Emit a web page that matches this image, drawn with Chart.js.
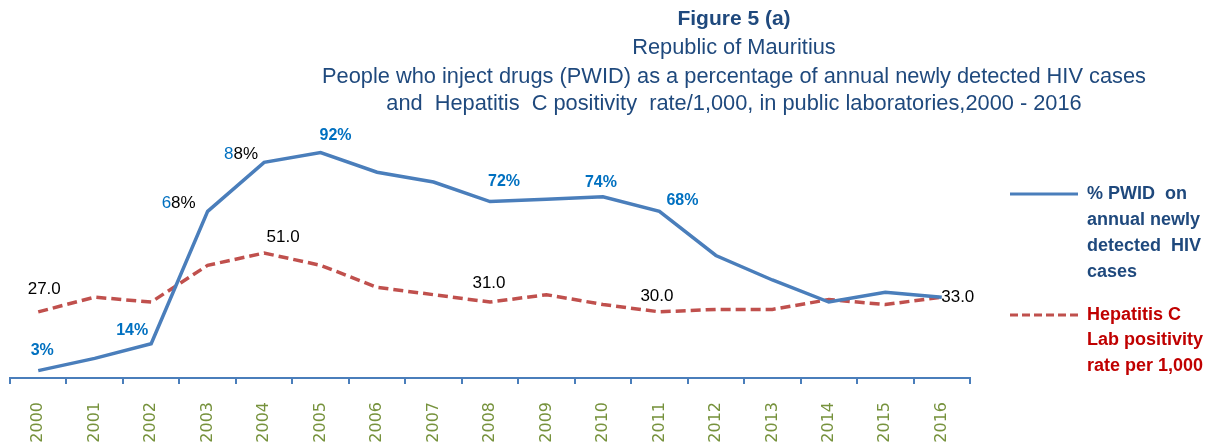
<!DOCTYPE html>
<html>
<head>
<meta charset="utf-8">
<script src="https://cdn.jsdelivr.net/npm/chart.js@4"></script>
<style>
  html, body { margin: 0; padding: 0; background: #ffffff; }
  #wrap { position: relative; width: 1225px; height: 448px; }
</style>
</head>
<body>
<div id="wrap"><canvas id="chart"></canvas></div>
<script>
// Years on the category axis
const years = ['2000', '2001', '2002', '2003', '2004', '2005', '2006', '2007', '2008',
               '2009', '2010', '2011', '2012', '2013', '2014', '2015', '2016'];

// % of annual newly detected HIV cases who are people who inject drugs
const pwidPct = [3, 8, 14, 68, 88, 92, 84, 80, 72, 73, 74, 68, 50, 40, 31, 35, 33];

// Hepatitis C lab positivity rate per 1,000 (public laboratories)
const hepCRate = [27.0, 33.0, 31.0, 46.0, 51.0, 46.0, 37.0, 34.0, 31.0, 34.0, 30.0, 27.0, 28.0, 28.0, 32.0, 30.0, 33.0];

const titleLines = [
  'Figure 5 (a)',
  'Republic of Mauritius',
  'People who inject drugs (PWID) as a percentage of annual newly detected HIV cases',
  'and  Hepatitis  C positivity  rate/1,000, in public laboratories,2000 - 2016'
];
const pwidLegend = ['% PWID  on', 'annual newly', 'detected  HIV', 'cases'];
const hepLegend = ['Hepatitis C', 'Lab positivity', 'rate per 1,000'];

const BLUE_LINE = '#4a7ebb';
const RED_LINE = '#c0504d';
const TITLE_BLUE = '#1f497d';
const LABEL_BLUE = '#0070c0';
const LEGEND_RED = '#c00000';
const AXIS_GREEN = '#76923c';
const FONT = '"Liberation Sans", Arial, sans-serif';

// Which points carry a value label, and where the label sits relative to the point
const pwidLabelSpots = [
  { i: 0, dx: 4, dy: -20 },
  { i: 2, dx: -19, dy: -13 },
  { i: 3, dx: -29, dy: -8, split: true },
  { i: 4, dx: -23, dy: -8, split: true },
  { i: 5, dx: 15, dy: -17 },
  { i: 8, dx: 14, dy: -20 },
  { i: 10, dx: -2, dy: -14 },
  { i: 11, dx: 23, dy: -11 }
];
const hepLabelSpots = [
  { i: 0, dx: 6, dy: -23 },
  { i: 4, dx: 19, dy: -16 },
  { i: 8, dx: -1, dy: -19 },
  { i: 10, dx: 54, dy: -8 },
  { i: 16, dx: 16, dy: 0 }
];

const decorations = {
  id: 'decorations',
  afterDraw(chart) {
    const ctx = chart.ctx;
    ctx.save();
    ctx.textBaseline = 'middle';

    // Title block
    ctx.fillStyle = TITLE_BLUE;
    ctx.textAlign = 'center';
    const tx = 734;
    ctx.font = 'bold 21px ' + FONT;
    ctx.fillText(titleLines[0], tx, 19);
    ctx.font = '21.8px ' + FONT;
    ctx.fillText(titleLines[1], tx, 48);
    ctx.fillText(titleLines[2], tx, 77);
    ctx.fillText(titleLines[3], tx, 104);

    // Value labels
    const pMeta = chart.getDatasetMeta(0).data;
    const hMeta = chart.getDatasetMeta(1).data;
    pwidLabelSpots.forEach(s => {
      const pt = pMeta[s.i];
      const txt = pwidPct[s.i] + '%';
      const cx = pt.x + s.dx, cy = pt.y + s.dy;
      if (s.split) {
        ctx.font = '17px ' + FONT;
        const head = txt.slice(0, 1), tail = txt.slice(1);
        const w = ctx.measureText(txt).width;
        const wh = ctx.measureText(head).width;
        ctx.textAlign = 'left';
        ctx.fillStyle = LABEL_BLUE;
        ctx.fillText(head, cx - w / 2, cy);
        ctx.fillStyle = '#000000';
        ctx.fillText(tail, cx - w / 2 + wh, cy);
      } else {
        ctx.font = 'bold 16px ' + FONT;
        ctx.textAlign = 'center';
        ctx.fillStyle = LABEL_BLUE;
        ctx.fillText(txt, cx, cy);
      }
    });
    ctx.font = '17px ' + FONT;
    ctx.textAlign = 'center';
    ctx.fillStyle = '#000000';
    hepLabelSpots.forEach(s => {
      const pt = hMeta[s.i];
      ctx.fillText(hepCRate[s.i].toFixed(1), pt.x + s.dx, pt.y + s.dy);
    });

    // Legend
    const lx0 = 1010, lx1 = 1078, textX = 1087;
    ctx.lineWidth = 3;
    ctx.strokeStyle = BLUE_LINE;
    ctx.setLineDash([]);
    ctx.beginPath(); ctx.moveTo(lx0, 194); ctx.lineTo(lx1, 194); ctx.stroke();
    ctx.strokeStyle = RED_LINE;
    ctx.setLineDash([8, 4]);
    ctx.beginPath(); ctx.moveTo(lx0, 315); ctx.lineTo(lx1, 315); ctx.stroke();
    ctx.setLineDash([]);

    ctx.font = 'bold 18px ' + FONT;
    ctx.textAlign = 'left';
    ctx.fillStyle = TITLE_BLUE;
    pwidLegend.forEach((t, k) => ctx.fillText(t, textX, 194 + k * 26));
    ctx.fillStyle = LEGEND_RED;
    hepLegend.forEach((t, k) => ctx.fillText(t, textX, 315 + k * 25.5));

    ctx.restore();
  }
};

new Chart(document.getElementById('chart'), {
  type: 'line',
  data: {
    labels: years,
    datasets: [
      {
        label: '% PWID on annual newly detected HIV cases',
        data: pwidPct,
        borderColor: BLUE_LINE,
        borderWidth: 3.5,
        pointRadius: 0,
        tension: 0,
        fill: false
      },
      {
        label: 'Hepatitis C Lab positivity rate per 1,000',
        data: hepCRate,
        borderColor: RED_LINE,
        borderWidth: 3.5,
        borderDash: [10, 5],
        pointRadius: 0,
        tension: 0,
        fill: false
      }
    ]
  },
  options: {
    responsive: true,
    maintainAspectRatio: false,
    animation: false,
    layout: { padding: { top: 133, left: 10, right: 255, bottom: 0 } },
    plugins: {
      legend: { display: false },
      title: { display: false },
      tooltip: { enabled: false }
    },
    scales: {
      x: {
        offset: true,
        afterFit(scale) { scale.height = 70; },
        border: { display: true, color: BLUE_LINE, width: 2 },
        grid: {
          offset: true,
          drawOnChartArea: false,
          drawTicks: true,
          tickLength: 6,
          color: BLUE_LINE,
          lineWidth: 2
        },
        ticks: {
          minRotation: 90,
          maxRotation: 90,
          autoSkip: false,
          padding: 18,
          color: AXIS_GREEN,
          font: { family: 'DejaVu Sans', size: 16 }
        }
      },
      y: {
        display: false,
        min: 0,
        max: 100
      }
    }
  },
  plugins: [decorations]
});
</script>
</body>
</html>
